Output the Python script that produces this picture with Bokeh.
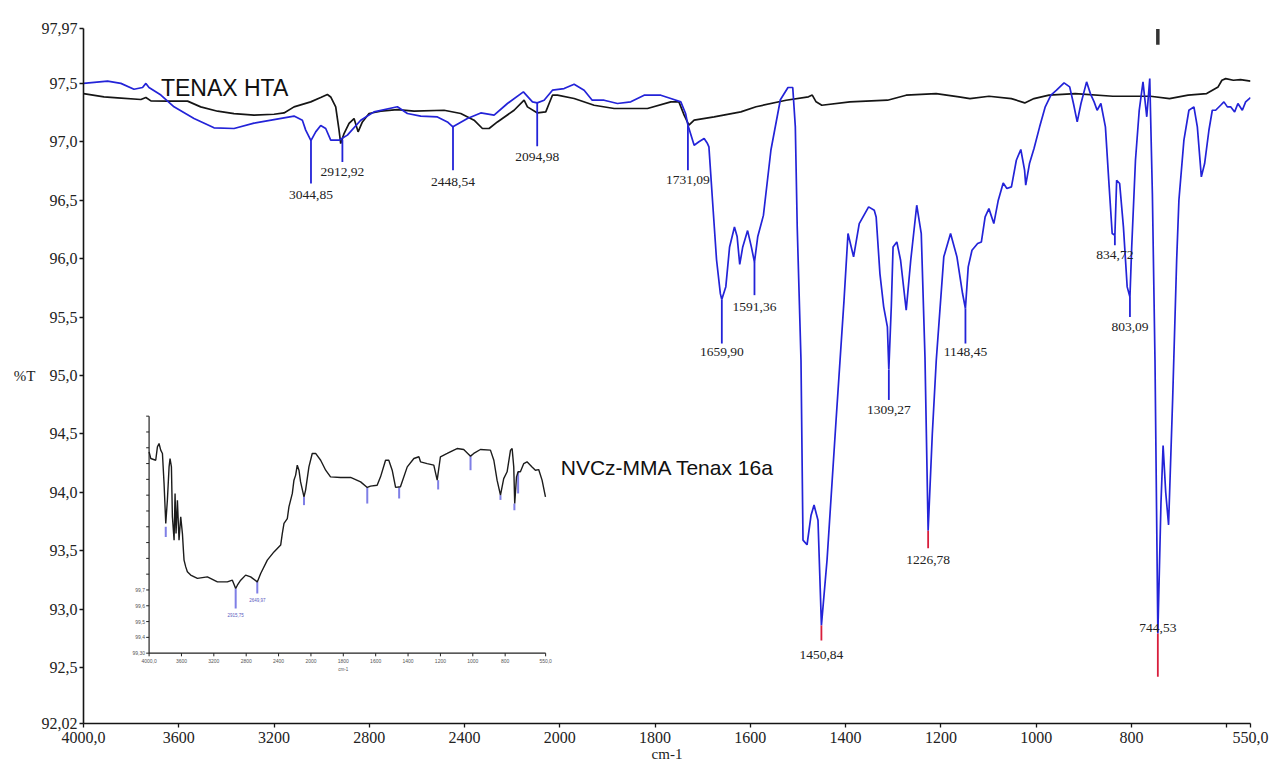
import numpy as np
from bokeh.plotting import figure
from bokeh.models import Range1d, FixedTicker, CustomJSTickFormatter, ColumnDataSource
from bokeh.core.properties import value
from bokeh.embed import file_html
from bokeh.resources import INLINE

# ---------------- data (wavenumber cm-1, %T) ----------------
X_LIMITS = [4000, 550]
Y_LIMITS = [92.02, 97.97]
X_TICKS = [4000, 3600, 3200, 2800, 2400, 2000, 1800, 1600, 1400, 1200, 1000, 800, 600, 550]
X_TICK_LABELS = ["4000,0", "3600", "3200", "2800", "2400", "2000", "1800", "1600",
                 "1400", "1200", "1000", "800", "", "550,0"]
Y_TICKS = [92.02, 92.5, 93.0, 93.5, 94.0, 94.5, 95.0, 95.5, 96.0, 96.5, 97.0, 97.5, 97.97]
Y_TICK_LABELS = ["92,02", "92,5", "93,0", "93,5", "94,0", "94,5", "95,0", "95,5",
                 "96,0", "96,5", "97,0", "97,5", "97,97"]

BLUE_WN = [4000, 3899, 3843, 3788, 3752, 3738, 3725, 3675, 3620, 3536, 3452, 3368, 3284, 3200,
           3116, 3081, 3067, 3045, 3025, 3004, 2983, 2962, 2927, 2892, 2836, 2780, 2682, 2640,
           2584, 2514, 2472, 2449, 2388, 2332, 2276, 2220, 2153, 2115, 2095, 2066, 2031, 1991,
           1970, 1949, 1932, 1907, 1879, 1851, 1823, 1788, 1767, 1746, 1736, 1731, 1718, 1708,
           1697, 1690, 1687, 1679, 1671, 1663, 1660, 1651.5, 1643.6, 1633.4, 1627.8, 1622.3,
           1616, 1605.8, 1597.9, 1591.4, 1584.4, 1572.6, 1556.8, 1537, 1521, 1511, 1505.6,
           1501.6, 1493.7, 1489.5, 1481, 1472.7, 1466.3, 1458, 1450.8, 1439, 1420, 1403.4,
           1395, 1383.3, 1371.4, 1351.7, 1339.9, 1335.9, 1328, 1320.1, 1312.3, 1309.3, 1304,
           1300.4, 1292.5, 1284.6, 1272.8, 1263.3, 1250.7, 1241.2, 1233.4, 1226.8, 1218,
           1209.7, 1193.9, 1179.7, 1166.3, 1154.5, 1148.5, 1142.6, 1134.7, 1122.9, 1115,
           1107.1, 1099.2, 1088.9, 1079.5, 1069.2, 1061.4, 1051.9, 1041.6, 1032.2, 1024.3,
           1021.9, 1014, 1004.5, 992.7, 980.9, 969, 957.2, 941.4, 929.6, 921.7, 913.8, 905.9,
           894.1, 886.2, 878.3, 872, 864.1, 854.6, 846.7, 840.4, 834.7, 831, 824.7, 816.8,
           808.9, 803.1, 799.4, 791.5, 783.6, 775.7, 767.8, 761.5, 756, 750.5, 744.5, 738,
           733.5, 728, 722, 713.5, 705, 700.3, 689.8, 679.3, 668.8, 661.6, 653.2, 646.3,
           637.3, 630.2, 623.2, 612.7, 605.8, 598.6, 591.7, 583.3, 576.4, 567.2, 560.2, 550]
BLUE_T = [97.50, 97.52, 97.50, 97.45, 97.465, 97.50, 97.465, 97.40, 97.30, 97.20, 97.12, 97.114,
          97.16, 97.19, 97.22, 97.185, 97.10, 97.01, 97.085, 97.14, 97.114, 97.014, 97.014,
          97.057, 97.185, 97.256, 97.30, 97.242, 97.22, 97.213, 97.17, 97.128, 97.20, 97.247,
          97.228, 97.328, 97.427, 97.342, 97.333, 97.356, 97.442, 97.456, 97.493, 97.442,
          97.356, 97.356, 97.328, 97.342, 97.399, 97.399, 97.371, 97.342, 97.242, 97.142,
          96.971, 97.0, 97.028, 96.985, 96.957, 96.47, 95.99, 95.70, 95.65, 95.76, 96.10,
          96.27, 96.19, 95.95, 96.10, 96.24, 96.10, 95.97, 96.19, 96.37, 96.93, 97.36, 97.465,
          97.465, 97.13, 96.27, 95.13, 93.59, 93.55, 93.80, 93.89, 93.76, 92.86, 93.42, 94.62,
          95.64, 96.215, 96.015, 96.30, 96.443, 96.414, 96.357, 95.872, 95.587, 95.415, 95.05,
          95.6, 96.10, 96.143, 95.986, 95.558, 95.986, 96.457, 96.214, 95.158, 93.67, 94.5,
          95.13, 96.015, 96.215, 96.015, 95.701, 95.573, 95.929, 96.072, 96.129, 96.143,
          96.357, 96.428, 96.30, 96.50, 96.648, 96.60, 96.614, 96.842, 96.934, 96.757, 96.629,
          96.814, 96.942, 97.128, 97.30, 97.399, 97.442, 97.505, 97.47, 97.328, 97.171,
          97.328, 97.513, 97.413, 97.342, 97.27, 97.328, 97.128, 96.614, 96.215, 96.20,
          96.671, 96.643, 96.272, 95.758, 95.672, 96.10, 96.842, 97.27, 97.513, 97.214,
          97.542, 96.557, 95.13, 92.79, 93.9, 94.40, 94.0, 93.72, 94.79, 95.99, 96.5, 97.014,
          97.27, 97.299, 97.128, 96.70, 96.814, 97.099, 97.27, 97.27, 97.313, 97.342, 97.299,
          97.30, 97.256, 97.328, 97.27, 97.342, 97.379]

BLACK_WN = [4000, 3914, 3857, 3759, 3738, 3717, 3647, 3563, 3508, 3437, 3368, 3284, 3200, 3158,
            3116, 3046, 3004, 2976, 2962, 2941, 2927, 2920, 2906, 2885, 2864, 2847, 2829, 2801,
            2752, 2682, 2612, 2486, 2416, 2360, 2325, 2297, 2262, 2192, 2150, 2136, 2094, 2059,
            2045, 2031, 2010, 1970, 1928, 1886, 1816, 1767, 1750, 1739, 1729, 1718, 1676, 1620,
            1588, 1525, 1478, 1470, 1462, 1450, 1391, 1312, 1273, 1210, 1162, 1139, 1099, 1052,
            1024, 1004.5, 973, 918, 839, 760, 720, 681, 642, 618, 610, 602, 586, 571, 550]
BLACK_T = [97.413, 97.384, 97.376, 97.362, 97.379, 97.35, 97.348, 97.348, 97.299, 97.262,
           97.242, 97.228, 97.236, 97.247, 97.299, 97.342, 97.379, 97.405, 97.384, 97.299,
           97.099, 96.985, 97.071, 97.157, 97.199, 97.085, 97.17, 97.242, 97.262, 97.276,
           97.262, 97.27, 97.242, 97.185, 97.114, 97.114, 97.17, 97.27, 97.356, 97.299,
           97.247, 97.256, 97.328, 97.399, 97.399, 97.371, 97.313, 97.285, 97.285, 97.342,
           97.342, 97.228, 97.142, 97.185, 97.213, 97.256, 97.30, 97.356, 97.385, 97.40,
           97.342, 97.313, 97.342, 97.356, 97.399, 97.413, 97.385, 97.37, 97.39, 97.37,
           97.333, 97.37, 97.40, 97.413, 97.39, 97.39, 97.37, 97.40, 97.413, 97.47, 97.527,
           97.541, 97.527, 97.533, 97.52]

PEAK_WN = [3044.85, 2912.92, 2448.54, 2094.98, 1731.09, 1659.90, 1591.36, 1450.84, 1309.27,
           1226.78, 1148.45, 834.72, 803.09, 744.53]
PEAK_LABELS = ["3044,85", "2912,92", "2448,54", "2094,98", "1731,09", "1659,90", "1591,36",
               "1450,84", "1309,27", "1226,78", "1148,45", "834,72", "803,09", "744,53"]
PEAK_TOP = [97.01, 97.02, 97.128, 97.333, 97.142, 95.649, 95.972, 92.86, 95.05, 93.67, 95.573,
            96.20, 95.672, 92.79]
PEAK_BOTTOM = [96.643, 96.828, 96.757, 96.962, 96.757, 95.273, 95.687, 92.73, 94.79, 93.52,
               95.273, 96.115, 95.501, 92.42]
PEAK_LABEL_T = [96.543, 96.740, 96.654, 96.868, 96.671, 95.199, 95.585, 92.604, 94.70, 93.418,
                95.199, 96.03, 95.415, 92.836]
PEAK_KIND = ["blue", "blue", "blue", "blue", "blue", "blue", "blue", "red", "blue", "red",
             "blue", "blue", "blue", "red"]

SERIES_NAMES = ["TENAX HTA", "NVCz-MMA Tenax 16a"]
TOP_MARK_WN = 744.53

# inset spectrum (small pasted spectrum, its own %T scale)
INSET_X_LIMITS = [4000, 550]
INSET_Y_LIMITS = [99.30, 100.80]
INSET_WN = [4000, 3979, 3918, 3897, 3877, 3856, 3835, 3815, 3794, 3774, 3753, 3741, 3724, 3712,
            3691, 3679, 3667, 3650, 3630, 3609, 3588, 3576, 3568, 3547, 3527, 3486, 3403, 3280,
            3156, 3033, 2971, 2930, 2909, 2868, 2807, 2745, 2663, 2621, 2539, 2457, 2374, 2354,
            2333, 2292, 2272, 2230, 2210, 2189, 2169, 2148, 2128, 2086, 2066, 2025, 1992, 1971,
            1940, 1909, 1879, 1817, 1755, 1693, 1652, 1632, 1591, 1570, 1539, 1519, 1498, 1477,
            1447, 1405, 1364, 1333, 1323, 1282, 1241, 1220, 1200, 1158, 1117, 1097, 1056, 1014,
            994, 953, 891, 870, 850, 829, 809, 788, 767, 757, 747, 741, 730, 720, 706, 685, 665,
            634, 613, 593, 572, 551]
INSET_T = [100.574, 100.532, 100.521, 100.606, 100.627, 100.585, 100.564, 100.374, 100.121,
           100.268, 100.479, 100.532, 100.479, 100.163, 100.015, 100.311, 100.057, 100.268,
           100.015, 100.163, 100.057, 99.952, 99.889, 99.846, 99.815, 99.794, 99.773, 99.783,
           99.751, 99.751, 99.762, 99.709, 99.730, 99.762, 99.794, 99.783, 99.751, 99.804,
           99.889, 99.941, 99.984, 100.057, 100.121, 100.152, 100.226, 100.311, 100.395,
           100.427, 100.490, 100.458, 100.384, 100.289, 100.332, 100.479, 100.564, 100.564,
           100.521, 100.458, 100.416, 100.412, 100.412, 100.384, 100.349, 100.357, 100.363,
           100.416, 100.521, 100.521, 100.458, 100.349, 100.353, 100.479, 100.532, 100.543,
           100.511, 100.500, 100.490, 100.395, 100.543, 100.564, 100.585, 100.595, 100.589,
           100.547, 100.564, 100.589, 100.585, 100.521, 100.395, 100.300, 100.405, 100.448,
           100.585, 100.595, 100.479, 100.247, 100.416, 100.448, 100.448, 100.500, 100.511,
           100.479, 100.458, 100.462, 100.395, 100.289]
INSET_PEAK_WN = [3794, 2930, 2663, 2086, 1652, 1455, 1214, 1014, 829, 743, 720]
INSET_PEAK_TOP = [100.10, 99.709, 99.75, 100.289, 100.349, 100.35, 100.395, 100.547, 100.30,
                  100.247, 100.448]
INSET_PEAK_BOTTOM = [100.036, 99.583, 99.678, 100.237, 100.247, 100.279, 100.336, 100.458,
                     100.27, 100.205, 100.311]
INSET_PEAK_LABEL_WN = [2930, 2663]
INSET_PEAK_LABEL_T = [99.555, 99.652]
INSET_PEAK_LABELS = ["2915,75", "2649,97"]
INSET_X_TICKS = [4000, 3600, 3200, 2800, 2400, 2000, 1800, 1600, 1400, 1200, 1000, 800, 550]
INSET_X_TICK_LABELS = ["4000,0", "3600", "3200", "2800", "2400", "2000", "1800", "1600",
                       "1400", "1200", "1000", "800", "550,0"]
INSET_Y_TICKS = [99.3, 99.4, 99.5, 99.6, 99.7, 99.8, 99.9, 100.0, 100.1, 100.2, 100.3, 100.4,
                 100.5, 100.6, 100.7, 100.8]
INSET_Y_TICK_LABELS = ["99,30", "99,4", "99,5", "99,6", "99,7", "", "", "", "", "", "", "", "",
                       "", "", ""]


# ---------------- scale: the x axis is expanded 2x below 2000 cm-1 ----------------
def to_u(wn):
    w = np.asarray(wn, dtype=float)
    return np.where(w >= 2000.0, (4000.0 - w) / 2.0, 3000.0 - w)


def nearest_label_formatter(pos, labels):
    return CustomJSTickFormatter(
        args=dict(pos=[float(v) for v in pos], lab=list(labels)),
        code="""
let best = 0, d = Infinity;
for (let i = 0; i < pos.length; i++) {
  const e = Math.abs(pos[i] - tick);
  if (e < d) { d = e; best = i; }
}
return lab[best];
""")


def frac_range(lo, hi, f0, f1):
    span = (hi - lo) / (f1 - f0)
    start = lo - f0 * span
    return Range1d(start, start + span)


SERIF = "Liberation Serif"
SANS = "Liberation Sans"
BLUE = "#2323d8"
RED = "#d81e3c"
BLACK = "#151515"

ux = to_u(X_LIMITS)
p = figure(width=1270, height=767,
           x_range=Range1d(float(ux[0]), float(ux[1])),
           y_range=Range1d(Y_LIMITS[0], Y_LIMITS[1]),
           output_backend="svg", toolbar_location=None,
           min_border_left=83, min_border_right=20, min_border_top=28, min_border_bottom=44)
p.xgrid.visible = False
p.ygrid.visible = False
p.outline_line_color = None
p.background_fill_color = "white"
p.border_fill_color = "white"

for ax in (p.xaxis[0], p.yaxis[0]):
    ax.axis_line_width = 1.6
    ax.axis_line_color = BLACK
    ax.major_tick_line_color = BLACK
    ax.major_tick_line_width = 1.3
    ax.major_tick_out = 4
    ax.major_tick_in = 0
    ax.minor_tick_line_color = None
    ax.major_label_text_font = SERIF
    ax.major_label_text_font_size = "16px"
    ax.major_label_text_color = "#222222"
    ax.axis_label_text_font = SERIF
    ax.axis_label_text_font_style = "normal"
    ax.axis_label_text_font_size = "15px"
    ax.axis_label_text_color = "#222222"

xa = p.xaxis[0]
xa.ticker = FixedTicker(ticks=[float(v) for v in to_u(X_TICKS)], minor_ticks=[])
xa.formatter = nearest_label_formatter(to_u(X_TICKS), X_TICK_LABELS)
xa.major_label_standoff = 4
xa.axis_label = "cm-1"
xa.axis_label_standoff = 0

ya = p.yaxis[0]
ya.ticker = FixedTicker(ticks=Y_TICKS, minor_ticks=[])
ya.formatter = nearest_label_formatter(Y_TICKS, Y_TICK_LABELS)
ya.major_label_standoff = 2
ya.axis_label = "%T"
ya.axis_label_standoff = 3
try:
    ya.axis_label_orientation = "horizontal"
except Exception:
    pass

# ---------------- main spectra ----------------
p.line(x=to_u(BLACK_WN), y=BLACK_T, line_color=BLACK, line_width=1.7)
p.line(x=to_u(BLUE_WN), y=BLUE_T, line_color=BLUE, line_width=1.7)

# peak markers
peak_src = ColumnDataSource(dict(
    x=to_u(PEAK_WN), y0=PEAK_TOP, y1=PEAK_BOTTOM, ly=PEAK_LABEL_T, text=PEAK_LABELS,
    color=[RED if k == "red" else BLUE for k in PEAK_KIND]))
p.segment(x0="x", y0="y0", x1="x", y1="y1", source=peak_src, line_color="color", line_width=1.8)
p.text(x="x", y="ly", text="text", source=peak_src, text_font=value(SERIF),
       text_font_size="13.5px", text_color="#222222", text_align="center",
       text_baseline="middle")

# tiny black mark at the top edge
p.segment(x0=to_u([TOP_MARK_WN]), y0=[97.965], x1=to_u([TOP_MARK_WN]), y1=[97.83],
          line_color="#333333", line_width=3.5)

# series names
p.text(x=to_u([3675, 1998]), y=[97.459, 94.214], text=SERIES_NAMES,
       text_font=value(SANS), text_font_size=["23px", "21px"], text_color="#111111",
       text_align="left", text_baseline="middle")

# ---------------- inset spectrum (own ranges mapped into a box of the frame) ----------------
iu = to_u(INSET_X_LIMITS)
p.extra_x_ranges = {"ix": frac_range(float(iu[0]), float(iu[1]), 0.0562, 0.396)}
p.extra_y_ranges = {"iy": frac_range(INSET_Y_LIMITS[0], INSET_Y_LIMITS[1], 0.1012, 0.4422)}
IR = dict(x_range_name="ix", y_range_name="iy")

ix0, ix1 = float(iu[0]), float(iu[1])
iy0, iy1 = INSET_Y_LIMITS
p.line(x=[ix0, ix1], y=[iy0, iy0], line_color="#222222", line_width=1.2, **IR)
p.line(x=[ix0, ix0], y=[iy0, iy1], line_color="#222222", line_width=1.2, **IR)
tick_len_t = 0.02   # ~3 px in inset %T units
tick_len_u = 18.0   # ~3 px in inset x units
itx = to_u(INSET_X_TICKS)
p.segment(x0=itx, y0=[iy0] * len(itx), x1=itx, y1=[iy0 - tick_len_t] * len(itx),
          line_color="#222222", line_width=1, **IR)
p.segment(x0=[ix0] * len(INSET_Y_TICKS), y0=INSET_Y_TICKS,
          x1=[ix0 - tick_len_u] * len(INSET_Y_TICKS), y1=INSET_Y_TICKS,
          line_color="#222222", line_width=1, **IR)
p.text(x=itx, y=[iy0 - 0.035] * len(itx), text=INSET_X_TICK_LABELS, text_font=value(SANS),
       text_font_size="5px", text_color="#555555", text_align="center", text_baseline="top", **IR)
p.text(x=[ix0 - 25] * len(INSET_Y_TICKS), y=INSET_Y_TICKS, text=INSET_Y_TICK_LABELS,
       text_font=value(SANS), text_font_size="5px", text_color="#555555", text_align="right",
       text_baseline="middle", **IR)
p.text(x=to_u([1800]), y=[iy0 - 0.085], text=["cm-1"], text_font=value(SANS),
       text_font_size="4.5px", text_color="#555555", text_align="center", text_baseline="top",
       **IR)

ipk = to_u(INSET_PEAK_WN)
p.segment(x0=ipk, y0=INSET_PEAK_TOP, x1=ipk, y1=INSET_PEAK_BOTTOM, line_color="#7f7fe6",
          line_width=2, **IR)
p.line(x=to_u(INSET_WN), y=INSET_T, line_color="#1c1c1c", line_width=1.4, **IR)
p.text(x=to_u(INSET_PEAK_LABEL_WN), y=INSET_PEAK_LABEL_T, text=INSET_PEAK_LABELS,
       text_font=value(SANS), text_font_size="4.5px", text_color="#5a5ac0",
       text_align="center", text_baseline="top", **IR)

open("out.html", "w").write(file_html(p, INLINE))
